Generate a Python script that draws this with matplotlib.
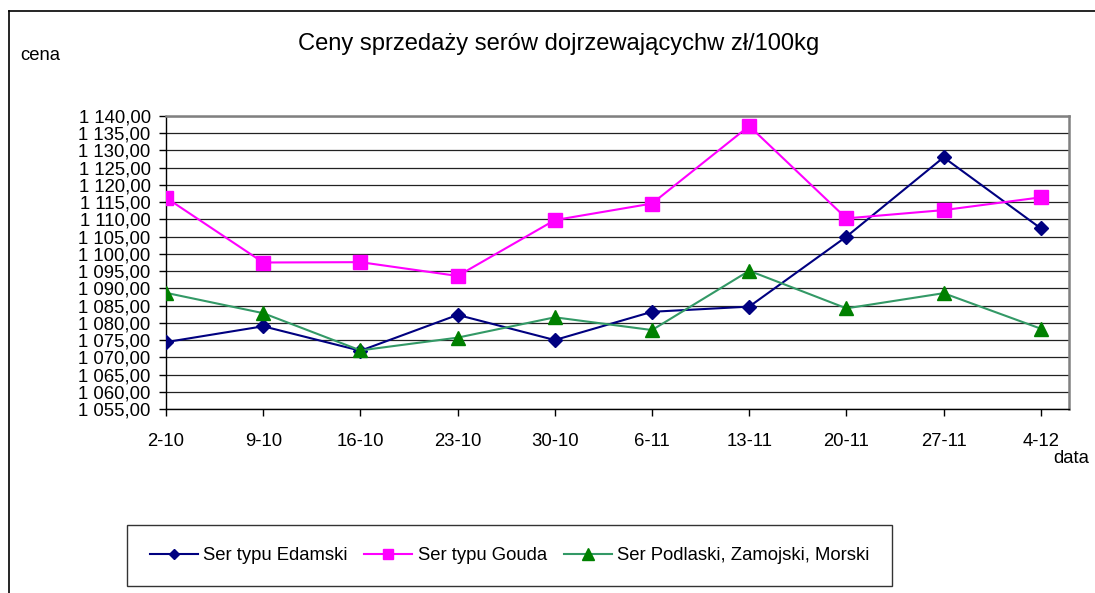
import matplotlib
matplotlib.use("Agg")
import matplotlib.pyplot as plt
from matplotlib.lines import Line2D

plt.rcParams['font.family'] = ['Liberation Sans', 'DejaVu Sans']

categories = ["2-10", "9-10", "16-10", "23-10", "30-10", "6-11", "13-11", "20-11", "27-11", "4-12"]
edamski = [1074.4, 1079.0, 1071.9, 1082.3, 1075.0, 1083.2, 1084.7, 1105.0, 1128.0, 1107.4]
gouda = [1116.3, 1097.5, 1097.6, 1093.6, 1109.8, 1114.6, 1137.1, 1110.3, 1112.7, 1116.4]
podlaski = [1088.7, 1082.8, 1072.0, 1075.7, 1081.6, 1077.9, 1095.1, 1084.2, 1088.6, 1078.3]
series_names = ["Ser typu Edamski", "Ser typu Gouda", "Ser Podlaski, Zamojski, Morski"]
y_ticks = [1055, 1060, 1065, 1070, 1075, 1080, 1085, 1090, 1095, 1100, 1105, 1110,
           1115, 1120, 1125, 1130, 1135, 1140]
y_tick_labels = ["1 055,00", "1 060,00", "1 065,00", "1 070,00", "1 075,00", "1 080,00",
                 "1 085,00", "1 090,00", "1 095,00", "1 100,00", "1 105,00", "1 110,00",
                 "1 115,00", "1 120,00", "1 125,00", "1 130,00", "1 135,00", "1 140,00"]
title = "Ceny sprzedaży serów dojrzewającychw zł/100kg"

W, H = 1095, 593
fig = plt.figure(figsize=(W / 100, H / 100), dpi=100)
fig.patch.set_facecolor('white')

L, R, T, B = 166, 1069, 116, 409
ax = fig.add_axes([L / W, 1 - B / H, (R - L) / W, (B - T) / H])

x = list(range(len(categories)))
ax.plot(x, edamski, color='#000080', lw=1.5, marker='D', ms=7,
        mfc='#000080', mec='#000080', label=series_names[0], zorder=5)
ax.plot(x, gouda, color='#FF00FF', lw=1.5, marker='s', ms=9.5,
        mfc='#FF00FF', mec='#FF00FF', label=series_names[1], zorder=5)
ax.plot(x, podlaski, color='#339966', lw=1.5, marker='^', ms=10,
        mfc='#008000', mec='#008000', label=series_names[2], zorder=5)

ax.set_xlim(0, 9.29)
ax.set_ylim(1055, 1140)
ax.set_yticks(y_ticks)
ax.set_yticklabels(y_tick_labels)
ax.set_xticks(x)
ax.set_xticklabels(categories)
ax.yaxis.grid(True, color='#222222', lw=0.9)
ax.set_axisbelow(True)
ax.tick_params(axis='y', direction='out', length=5, width=1, pad=6, labelsize=13.3, colors='black')
ax.tick_params(axis='x', direction='out', length=5, width=1, pad=12, labelsize=13.3, colors='black')
for s in ['left', 'bottom']:
    ax.spines[s].set_color('black')
    ax.spines[s].set_linewidth(1.0)
for s in ['top', 'right']:
    ax.spines[s].set_color('#808080')
    ax.spines[s].set_linewidth(1.8)

fig.text(558.5 / W, 1 - 50 / H, title, ha='center', va='baseline', fontsize=17.1)
fig.text(20 / W, 1 - 60 / H, "cena", ha='left', va='baseline', fontsize=13.3)
fig.text(1053 / W, 1 - 463 / H, "data", ha='left', va='baseline', fontsize=13.3)

# outer frame (left and top)
fig.add_artist(Line2D([9 / W, 9 / W], [0, 1 - 11 / H], transform=fig.transFigure, color='black', lw=1.2))
fig.add_artist(Line2D([9 / W, 1], [1 - 11 / H, 1 - 11 / H], transform=fig.transFigure, color='black', lw=1.2))

leg = fig.legend(loc='center', bbox_to_anchor=(509.5 / W, 1 - 555.5 / H), ncol=3,
                 fontsize=13.3, numpoints=1, handlelength=2.6, handletextpad=0.3,
                 columnspacing=0.9, frameon=True, fancybox=False, borderpad=1.2,
                 markerscale=0.8)
leg.get_frame().set_edgecolor('black')
leg.get_frame().set_linewidth(1.0)

fig.savefig('out.png', dpi=100)
